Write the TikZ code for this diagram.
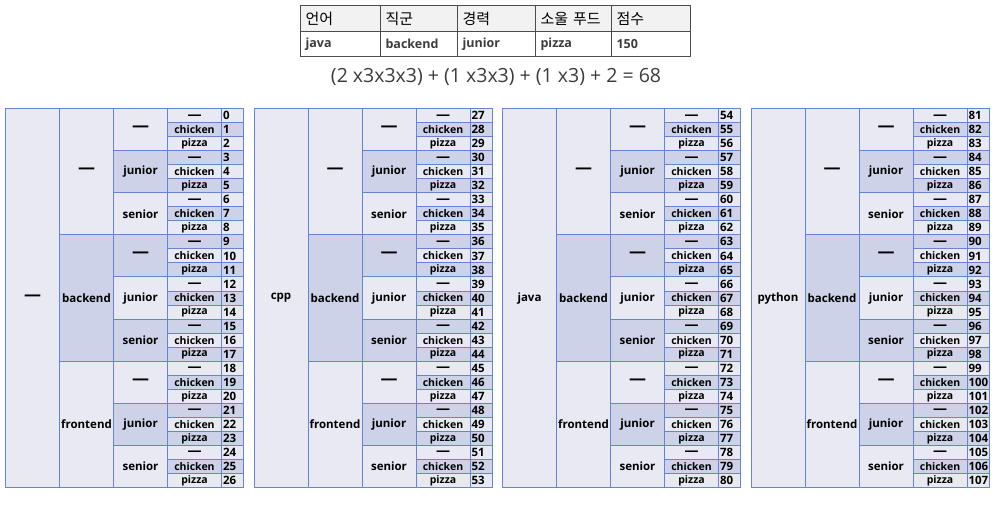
\documentclass[tikz,border=0pt]{standalone}
\usepackage{fontspec}
\setmainfont{Open Sans}
\newfontfamily\kr{Noto Sans CJK KR}
\definecolor{cellA}{HTML}{E9E9F4}
\definecolor{cellB}{HTML}{CDD2E9}
\definecolor{gridline}{HTML}{6585D3}
\definecolor{headgray}{HTML}{F2F2F2}
\definecolor{txtgray}{HTML}{3C3C3C}
\newcommand\dashmark[2]{\raisebox{#2}[7pt][3pt]{\fontsize{#1}{#1}\selectfont —}}
\tikzset{
  cell/.style={draw=gridline,line width=1pt,inner sep=0pt,anchor=north west,
    font=\bfseries\fontsize{11.5}{12}\selectfont,text=black},
  foodcell/.style={cell,minimum width=54pt,minimum height=14.04pt,
    font=\bfseries\fontsize{10.5}{11}\selectfont},
  numcell/.style={cell,text width=19pt,inner xsep=1.5pt,align=left,minimum height=14.04pt,
    font=\bfseries\fontsize{11.5}{12}\selectfont},
  headcell/.style={draw=black!70,line width=1.1pt,anchor=north west,inner xsep=5pt,
    minimum height=26pt,text width=#1,align=left,fill=headgray,font=\kr\fontsize{15}{16}\selectfont},
  valcell/.style={draw=black!70,line width=1.1pt,anchor=north west,inner xsep=5pt,
    minimum height=25pt,text width=#1,align=left,fill=white,text=txtgray,
    font=\bfseries\fontsize{12.5}{13}\selectfont}
}
\begin{document}
\begin{tikzpicture}[x=1pt,y=-1pt,line join=round]
\useasboundingbox (0,0) rectangle (997,504);
% top row of the question
\foreach \head/\val/\xa/\w [count=\i] in {언어/java/300/80,직군/backend/380/77,경력/junior/457/78,소울 푸드/pizza/535/76,점수/150/611/79}
{
  \node[headcell=\w pt-10pt] (h\i) at (\xa,5) {\head};
  \node[valcell=\w pt-10pt] (v\i) at (\xa,31) {\val};
}
\node[text=txtgray,font=\fontsize{19.5}{20}\selectfont] (sum) at (496,77) {(2 x3x3x3) + (1 x3x3) + (1 x3) + 2 = 68};
% the four blocks
\foreach \lang [count=\k from 0] in {\dashmark{17}{0pt},cpp,java,python}
{
  \begin{scope}[xshift=5pt+248.5pt*\k]
    \node[cell,fill=cellA,minimum width=54pt,minimum height=379.08pt] (b\k-lang) at (0,108) {\lang};
    \foreach \job [count=\j from 0] in {\dashmark{17}{0pt},backend,frontend}
    {
      \ifodd\j\def\fc{cellB}\else\def\fc{cellA}\fi
      \node[cell,fill=\fc,minimum width=54pt,minimum height=126.36pt] (b\k-job\j) at (54,108+126.36*\j) {\job};
      \foreach \car [count=\c from 0] in {\dashmark{17}{0pt},junior,senior}
      {
        \pgfmathtruncatemacro\g{3*\j+\c}
        \ifodd\g\def\fc{cellB}\else\def\fc{cellA}\fi
        \node[cell,fill=\fc,minimum width=54pt,minimum height=42.12pt] (b\k-car\g) at (108,108+42.12*\g) {\car};
        \foreach \food [count=\f from 0] in {\dashmark{14}{-1.5pt},chicken,pizza}
        {
          \pgfmathtruncatemacro\r{3*\g+\f}
          \pgfmathtruncatemacro\num{27*\k+\r}
          \ifodd\r\def\fc{cellB}\else\def\fc{cellA}\fi
          \node[foodcell,fill=\fc] (b\k-food\r) at (162,108+14.04*\r) {\food};
          \node[numcell,fill=\fc] (b\k-num\r) at (216,108+14.04*\r) {\num};
        }
      }
    }
  \end{scope}
}
\end{tikzpicture}
\end{document}
